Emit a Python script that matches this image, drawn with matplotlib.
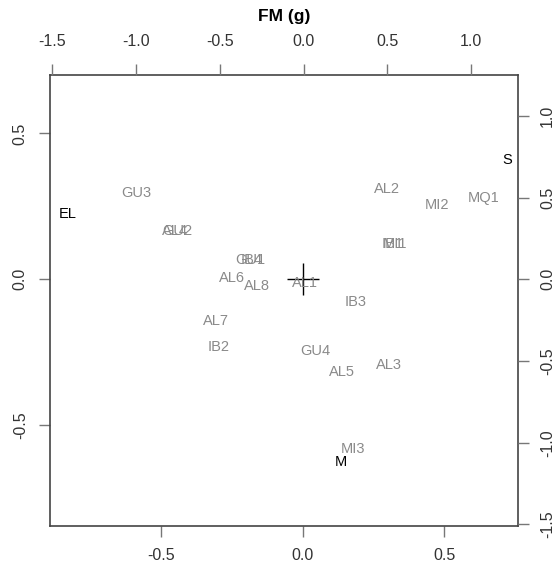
import matplotlib
matplotlib.use("Agg")
import matplotlib.pyplot as plt

plt.rcParams['font.family'] = ['Liberation Sans', 'DejaVu Sans']
plt.rcParams['axes.unicode_minus'] = False

# sample scores (grey labels, bottom/left axes)
samples = ["GU3", "AL4", "GU2", "IB4", "GU1", "AL6", "AL8", "AL1", "AL7", "IB2",
           "GU4", "AL5", "AL3", "IB3", "AL2", "MI2", "MQ1", "IB1", "MI1", "MI3"]
sx = [-0.590, -0.452, -0.445, -0.180, -0.187, -0.251, -0.163, 0.007, -0.307, -0.297,
      0.042, 0.138, 0.304, 0.187, 0.297, 0.473, 0.640, 0.318, 0.325, 0.177]
sy = [0.296, 0.166, 0.166, 0.067, 0.067, 0.005, -0.022, -0.012, -0.142, -0.231,
      -0.245, -0.317, -0.293, -0.077, 0.310, 0.255, 0.279, 0.122, 0.122, -0.580]

# variable labels (black, top/right axes)
variables = ["EL", "S", "M"]
vx = [-1.406, 1.215, 0.223]
vy = [0.400, 0.730, -1.117]

fig = plt.figure(figsize=(5.55, 5.68), dpi=100)
pos = [0.0901, 0.0739, 0.8432, 0.7940]
ax = fig.add_axes(pos)
ax.set_xlim(-0.894, 0.760)
ax.set_ylim(-0.845, 0.700)

for lab, x, y in zip(samples, sx, sy):
    ax.text(x, y, lab, color="#8a8a8a", fontsize=10.5, ha="center", va="center")
ax.plot([0], [0], marker="+", color="black", markersize=23, markeredgewidth=1.0)

ax.set_xticks([-0.5, 0.0, 0.5])
ax.set_yticks([-0.5, 0.0, 0.5])
ax.set_xticklabels(["-0.5", "0.0", "0.5"])
ax.set_yticklabels(["-0.5", "0.0", "0.5"])
ax.tick_params(axis="both", direction="out", length=8, width=1, color="#777777",
               labelsize=11.5, labelcolor="#333333", pad=8)
ax.tick_params(axis="y", labelrotation=90)
for lbl in ax.get_yticklabels():
    lbl.set_verticalalignment("center")
for sp in ax.spines.values():
    sp.set_color("#444444")
    sp.set_linewidth(1.2)

ax2 = fig.add_axes(pos, frameon=False)
ax2.set_xlim(-1.514, 1.279)
ax2.set_ylim(-1.51, 1.25)
ax2.patch.set_alpha(0)
for lab, x, y in zip(variables, vx, vy):
    ax2.text(x, y, lab, color="black", fontsize=10.5, ha="center", va="center")
ax2.xaxis.tick_top()
ax2.yaxis.tick_right()
ax2.xaxis.set_label_position("top")
ticks2 = [-1.5, -1.0, -0.5, 0.0, 0.5, 1.0]
ax2.set_xticks(ticks2)
ax2.set_yticks(ticks2)
ax2.set_xticklabels(["%.1f" % t for t in ticks2])
ax2.set_yticklabels(["%.1f" % t for t in ticks2])
ax2.tick_params(axis="both", direction="out", length=8, width=1, color="#777777",
                labelsize=11.5, labelcolor="#333333", pad=8)
ax2.tick_params(axis="x", pad=11)
ax2.tick_params(axis="y", labelrotation=90)
for lbl in ax2.get_yticklabels():
    lbl.set_verticalalignment("center")
ax2.set_xlabel("FM (g)", fontsize=12.5, fontweight="bold", labelpad=9)

fig.savefig("out.png", dpi=100)
